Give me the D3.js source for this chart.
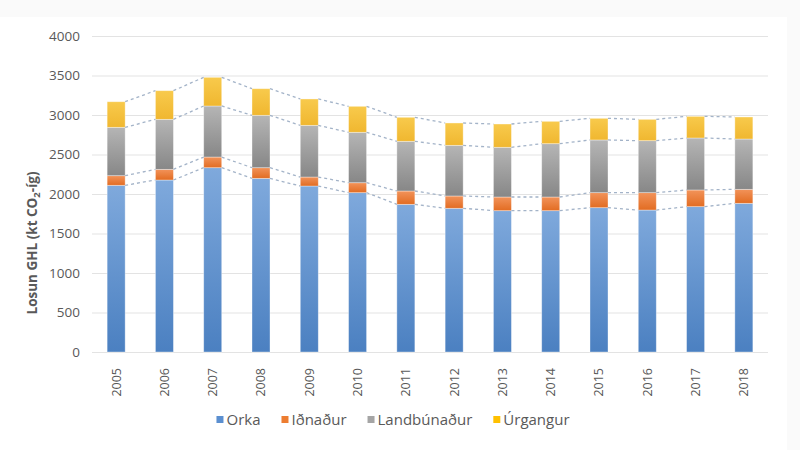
<!DOCTYPE html>
<html>
<head>
<meta charset="utf-8">
<script src="https://cdn.jsdelivr.net/npm/d3@7"></script>
<style>
	body { margin: 0; background: #fafafa; }
	text { font-family: "Open Sans", sans-serif; fill: #595959; }
</style>
</head>
<body>
<svg id="chart" width="800" height="450"></svg>
<script>
var years = ['2005','2006','2007','2008','2009','2010','2011','2012','2013','2014','2015','2016','2017','2018'];
var seriesNames = ['Orka', 'Iðnaður', 'Landbúnaður', 'Úrgangur'];
var orka = [2110, 2177, 2333, 2198, 2101, 2017, 1869, 1819, 1789, 1789, 1827, 1797, 1840, 1882];
var idnadur = [122, 135, 135, 135, 114, 126, 169, 156, 173, 173, 190, 220, 211, 177];
var landbunadur = [612, 633, 646, 663, 654, 638, 629, 641, 629, 675, 667, 658, 658, 637];
var urgangur = [324, 363, 363, 337, 334, 329, 304, 283, 295, 283, 274, 270, 274, 279];
var yTicks = [0, 500, 1000, 1500, 2000, 2500, 3000, 3500, 4000];

var svg = d3.select('#chart');

// faint off-white frame like the screenshot
svg.append('rect').attr('x', 0).attr('y', 17).attr('width', 787).attr('height', 433).attr('fill', '#ffffff');

var plotLeft = 92, plotRight = 768, plotTop = 36, plotBottom = 352;

var x = d3.scaleBand().domain(years).range([plotLeft, plotRight])
	.paddingInner(0.627).paddingOuter(0.3135);
var y = d3.scaleLinear().domain([0, 4000]).range([plotBottom, plotTop]);

var table = years.map(function (yr, i) {
	return { year: yr, 'Orka': orka[i], 'Iðnaður': idnadur[i], 'Landbúnaður': landbunadur[i], 'Úrgangur': urgangur[i] };
});
var stacked = d3.stack().keys(seriesNames)(table);

// gradients
var grads = [
	{ id: 'g0', top: '#7fa9dc', bottom: '#4b80c1', sw: '#5b8fd0' },
	{ id: 'g1', top: '#f2935a', bottom: '#e26c22', sw: '#ed7d31' },
	{ id: 'g2', top: '#b5b5b5', bottom: '#878787', sw: '#a5a5a5' },
	{ id: 'g3', top: '#f8ca4c', bottom: '#f0b730', sw: '#ffc000' }
];
var defs = svg.append('defs');
var lg = defs.selectAll('linearGradient').data(grads).enter().append('linearGradient')
	.attr('id', function (d) { return d.id; })
	.attr('x1', 0).attr('y1', 0).attr('x2', 0).attr('y2', 1);
lg.append('stop').attr('offset', '0%').attr('stop-color', function (d) { return d.top; });
lg.append('stop').attr('offset', '100%').attr('stop-color', function (d) { return d.bottom; });

// gridlines
svg.append('g').selectAll('line').data(yTicks).enter().append('line')
	.attr('x1', plotLeft).attr('x2', plotRight)
	.attr('y1', function (d) { return y(d) + 0.5; })
	.attr('y2', function (d) { return y(d) + 0.5; })
	.attr('stroke', '#e3e3e3').attr('stroke-width', 1);

// y tick labels
svg.append('g').selectAll('text').data(yTicks).enter().append('text')
	.attr('x', 80).attr('y', function (d) { return y(d); })
	.attr('dy', '0.35em').attr('text-anchor', 'end')
	.style('font-size', '13.5px')
	.text(function (d) { return d; });

// axis title
var title = svg.append('text')
	.attr('transform', 'translate(37,243) rotate(-90)')
	.attr('text-anchor', 'middle')
	.style('font-size', '13.5px').style('font-weight', 'bold');
title.append('tspan').text('Losun GHL (kt CO');
title.append('tspan').attr('dy', 3).style('font-size', '9.5px').text('2');
title.append('tspan').attr('dy', -3).text('-íg)');

// bars
var layers = svg.append('g').selectAll('g').data(stacked).enter().append('g')
	.attr('fill', function (d, i) { return 'url(#' + grads[i].id + ')'; });
layers.selectAll('rect').data(function (d) { return d; }).enter().append('rect')
	.attr('x', function (d) { return x(d.data.year); })
	.attr('width', x.bandwidth())
	.attr('y', function (d) { return y(d[1]); })
	.attr('height', function (d) { return y(d[0]) - y(d[1]); })
	.attr('stroke', 'rgba(255,255,255,0.45)').attr('stroke-width', 0.8);

// series lines
var bw = x.bandwidth();
stacked.forEach(function (layer) {
	for (var i = 0; i < layer.length - 1; ++i) {
		svg.append('line')
			.attr('x1', x(years[i]) + bw).attr('y1', y(layer[i][1]))
			.attr('x2', x(years[i + 1])).attr('y2', y(layer[i + 1][1]))
			.attr('stroke', '#a3b3c8').attr('stroke-width', 1.3)
			.attr('stroke-dasharray', '3,3');
	}
});

// year labels
svg.append('g').selectAll('text').data(years).enter().append('text')
	.attr('transform', function (d) { return 'translate(' + (x(d) + bw / 2) + ',368) rotate(-90)'; })
	.attr('dy', '0.35em').attr('text-anchor', 'end')
	.style('font-size', '12.5px')
	.text(function (d) { return d; });

// legend
var legend = svg.append('g');
var lx = 0;
seriesNames.forEach(function (name, i) {
	var item = legend.append('g').attr('transform', 'translate(' + lx + ',0)');
	item.append('rect').attr('x', 0).attr('y', 416).attr('width', 7).attr('height', 7).attr('fill', grads[i].sw);
	var t = item.append('text').attr('x', 10).attr('y', 420).attr('dy', '0.35em')
		.style('font-size', '15px').text(name);
	lx += 10 + t.node().getComputedTextLength() + 21;
});
var totalW = lx - 21;
legend.attr('transform', 'translate(' + (393 - totalW / 2) + ',0)');
</script>
</body>
</html>
